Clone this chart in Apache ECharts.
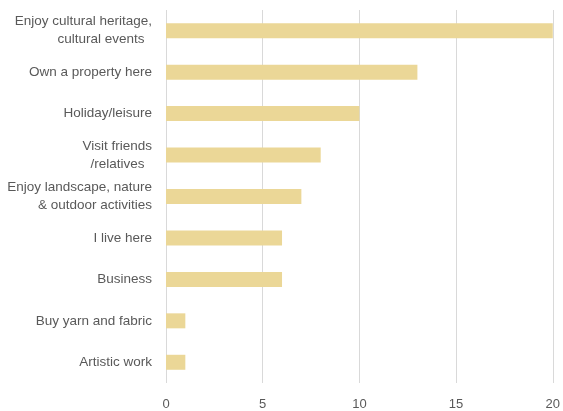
<!DOCTYPE html>
<html><head><meta charset="utf-8">
<script src="https://cdn.jsdelivr.net/npm/echarts@6/dist/echarts.min.js"></script>
<style>html,body{margin:0;padding:0;background:#fff}#c{width:563px;height:411px}</style>
</head><body><div id="c"></div>
<script>
const categories = [
  "Enjoy cultural heritage,\ncultural events  ",
  "Own a property here",
  "Holiday/leisure",
  "Visit friends\n/relatives  ",
  "Enjoy landscape, nature\n& outdoor activities",
  "I live here",
  "Business",
  "Buy yarn and fabric",
  "Artistic work"
];
const values = [20, 13, 10, 8, 7, 6, 6, 1, 1];
const xTicks = [0, 5, 10, 15, 20];

const chart = echarts.init(document.getElementById('c'));
chart.setOption({
  animation: false,
  grid: {left: 166, right: 5.5, top: 10, bottom: 23, containLabel: false},
  xAxis: {
    type: 'value', min: xTicks[0], max: xTicks[xTicks.length - 1], interval: 5,
    axisLine: {show: false}, axisTick: {show: false},
    splitLine: {show: true, lineStyle: {color: '#d9d9d9', width: 1}},
    axisLabel: {color: '#595959', fontSize: 13, fontFamily: 'Liberation Sans', margin: 15,
      formatter: v => xTicks.includes(v) ? String(v) : ''}
  },
  yAxis: {
    type: 'category', data: categories, inverse: true,
    axisLine: {show: false}, axisTick: {show: false},
    axisLabel: {color: '#595959', fontSize: 13.5, fontFamily: 'Liberation Sans', margin: 14, lineHeight: 18, align: 'right'}
  },
  series: [{
    type: 'bar', data: values, barWidth: 15,
    itemStyle: {color: '#ebd797'}
  }]
});
</script></body></html>
